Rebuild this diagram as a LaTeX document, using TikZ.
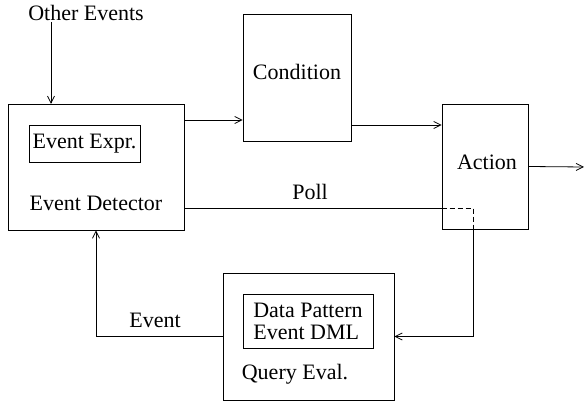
\documentclass[tikz,border=0pt]{standalone}
\usepackage{fontspec}
\setmainfont{Liberation Serif}
\usetikzlibrary{arrows.meta}
\tikzset{
  blk/.style={draw, line width=0.9pt, inner sep=0pt, minimum width=#1},
  arr/.style={line width=0.8pt, -{Straight Barb[length=7pt,width=7pt]}},
  lbl/.style={inner sep=1pt}
}
\begin{document}
\begin{tikzpicture}[x=1pt, y=-1pt, font=\fontsize{22}{25}\selectfont]
		\useasboundingbox (0,0) rectangle (584,403);
		% boxes
		\node[blk=176pt, minimum height=126pt] (ed) at (96,167) {};
		\node[blk=111pt, minimum height=37pt] (expr) at (84.5,143.5) {Event Expr.};
		\node[lbl] (edl) at (96,203) {Event Detector};
		\node[blk=108pt, minimum height=127pt] (cond) at (297,77.5) {};
		\node[lbl] (condl) at (297,72) {Condition};
		\node[blk=86pt, minimum height=125pt] (act) at (485,166.5) {};
		\node[lbl] (actl) at (487,162) {Action};
		\node[blk=171pt, minimum height=127pt] (qe) at (308.5,336.5) {};
		\node[blk=130pt, minimum height=54pt, align=left, font=\fontsize{22}{22}\selectfont] (pat) at (308,321) {Data Pattern\\Event DML};
		\node[lbl] (qel) at (295,374) {Query Eval.};
		\node[lbl] (oth) at (86,13) {Other Events};
		%
		\coordinate (oe) at (51,104);
		\coordinate (c1) at (184,120);
		\coordinate (c2) at (351,125);
		\coordinate (out) at (584,167);
		\coordinate (p1) at (184,208);
		\coordinate (p3) at (473,208);
		% pfeile
		\draw[arr] (oth.south -| oe) -- (oe);
		\draw[arr] (c1) -- (c1 -| cond.west);
		\draw[arr] (c2) -- (c2 -| act.west);
		\draw[arr] (act.east) -- (out);
		% poll
		\draw[line width=0.8pt] (p1) -- (p1 -| act.west);
		\draw[line width=0.8pt, dash pattern=on 5pt off 3pt] (p1 -| act.west) -- (p3) -- (p3 |- act.south);
		\draw[arr] (p3 |- act.south) |- (qe.east);
		\node[lbl] (poll) at (310,192) {Poll};
		% event
		\draw[arr] (qe.west) -| (ed.south);
		\node[lbl] (ev) at (155,320) {Event};
	\end{tikzpicture}
\end{document}
